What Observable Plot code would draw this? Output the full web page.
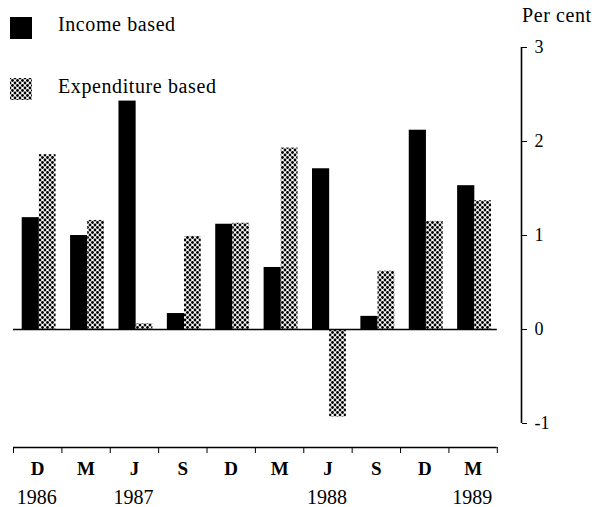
<!DOCTYPE html>
<html>
<head>
<meta charset="utf-8">
<script src="https://cdn.jsdelivr.net/npm/d3@7"></script>
<script src="https://cdn.jsdelivr.net/npm/@observablehq/plot@0.6"></script>
<style>
  body { margin: 0; background: white; }
  #wrap { position: relative; width: 596px; height: 507px; font-family: "Liberation Serif", serif; color: black; }
  .leg { position: absolute; font-family: "Liberation Serif", serif; font-size: 20px; line-height: 1; white-space: nowrap; letter-spacing: 0.6px; }
  .sw { position: absolute; width: 22px; height: 22px; }
  #chart svg text { font-family: "Liberation Serif", serif; }
</style>
</head>
<body>
<div id="wrap">
  <svg width="0" height="0" style="position:absolute">
    <defs>
      <pattern id="stip" width="5" height="5" patternUnits="userSpaceOnUse">
        <rect width="5" height="5" fill="white"></rect>
        <circle cx="0" cy="0" r="1.4" fill="black"></circle>
        <circle cx="5" cy="0" r="1.4" fill="black"></circle>
        <circle cx="0" cy="5" r="1.4" fill="black"></circle>
        <circle cx="5" cy="5" r="1.4" fill="black"></circle>
        <circle cx="2.5" cy="2.5" r="1.4" fill="black"></circle>
      </pattern>
    </defs>
  </svg>
  <div id="chart"></div>
  <div class="sw" style="left:10px;top:17px;background:black"></div>
  <div class="leg" style="left:58px;top:14px">Income based</div>
  <svg class="sw" style="left:10px;top:78px" width="22" height="22"><rect width="22" height="22" fill="url(#stip)"></rect></svg>
  <div class="leg" style="left:58px;top:76px">Expenditure based</div>
  <div class="leg" style="left:522px;top:5px">Per cent</div>
</div>
<script>
// Quarter labels (month initials) and year labels beneath
const quarters = ["D", "M", "J", "S", "D", "M", "J", "S", "D", "M"];
const yearLabels = ["1986", "", "1987", "", "", "", "1988", "", "", "1989"];
// Series values (per cent)
const income = [1.19, 1.00, 2.43, 0.17, 1.12, 0.66, 1.71, 0.14, 2.12, 1.53];
const expenditure = [1.86, 1.16, 0.06, 0.99, 1.13, 1.93, -0.93, 0.62, 1.15, 1.37];
const yTicks = [-1, 0, 1, 2, 3];

const incomeData = income.map((v, i) => ({i, v}));
const expData = expenditure.map((v, i) => ({i, v}));
const yearData = yearLabels.map((label, i) => ({i, label})).filter(d => d.label);

const xMax = 10.5;   // right edge of frame where the value axis sits
const yMin = -1.255; // bottom of frame where the time axis sits
const serif = "Liberation Serif";

const chart = Plot.plot({
  width: 596,
  height: 507,
  marginLeft: 13,
  marginRight: 75,
  marginTop: 47,
  marginBottom: 60,
  style: {fontFamily: serif, background: "white", color: "black"},
  x: {type: "linear", domain: [0, xMax], axis: null},
  y: {domain: [yMin, 3], axis: null},
  marks: [
    Plot.rect(incomeData, {x1: d => d.i + 0.18, x2: d => d.i + 0.535, y1: 0, y2: d => d.v, fill: "black"}),
    Plot.rect(expData, {x1: d => d.i + 0.535, x2: d => d.i + 0.88, y1: 0, y2: d => d.v, fill: "url(#stip)"}),
    Plot.ruleY([0], {x1: 0, x2: quarters.length, stroke: "black", strokeWidth: 1.5}),
    // value axis (right)
    Plot.ruleX([xMax], {y1: yTicks[0], y2: yTicks[yTicks.length - 1], stroke: "black", strokeWidth: 1.6}),
    Plot.axisY({anchor: "right", ticks: yTicks, tickSize: 5, tickPadding: 8, fontSize: 18, fontFamily: serif, label: null, tickFormat: d => String(d)}),
    // time axis (bottom)
    Plot.ruleY([yMin], {x1: 0, x2: quarters.length, stroke: "black", strokeWidth: 1.6}),
    Plot.axisX({anchor: "bottom", ticks: d3.range(quarters.length + 1), tickSize: 6, tickFormat: () => "", label: null}),
    Plot.text(quarters, {x: (d, i) => i + 0.5, y: yMin, dy: 21, text: d => d, fontSize: 19, fontWeight: "bold", fontFamily: serif, lineAnchor: "middle"}),
    Plot.text(yearData, {x: d => d.i + 0.48, y: yMin, dy: 50, text: d => d.label, fontSize: 20, fontFamily: serif, lineAnchor: "middle"})
  ]
});
document.getElementById("chart").appendChild(chart);
</script>
</body>
</html>
